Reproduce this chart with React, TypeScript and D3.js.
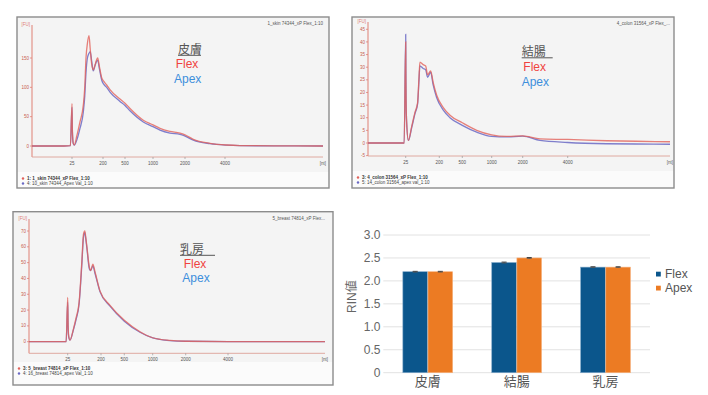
import React from 'react';
import * as d3 from 'd3';

// ladder sizes (nt) that the electropherogram x axis is labelled with
const ladderNt = [0, 25, 200, 500, 1000, 2000, 4000, 7000];
const xTickNt = [25, 200, 500, 1000, 2000, 4000];

// 皮膚 (skin)
const skinNt = [0, 10, 20, 24, 25, 27, 32, 38, 52, 70, 89, 97, 104, 112, 121, 128, 136, 145, 155, 163, 170, 180, 193, 212, 250, 295, 432, 500, 589, 827, 1000, 1219, 1531, 1844, 2000, 2415, 3250, 4052, 4459, 5500, 7000];
const skinFlex = [0, 0, 0, 0.5, 72, 30, 5, 2, 17, 41, 70, 100, 150, 175, 188, 165, 140, 130, 138, 146, 150, 135, 116, 110, 104, 96, 80, 73, 64, 44, 36, 30, 25, 22, 19, 11.4, 4.6, 1.7, 0.8, 0.3, 0];
const skinApex = [0, 0, 0, 0.5, 66, 25, 4, 1.5, 10, 30, 58, 85, 125, 150, 158, 161, 145, 128, 137, 144, 146, 131, 112, 105, 100, 92, 76, 69, 60, 41, 33, 27, 22, 20, 17, 10, 4, 1.5, 0.6, 0.2, 0];

// 結腸 (colon)
const colonNt = [0, 10, 20, 24, 25, 26, 27, 30, 39, 56, 73, 87, 94, 99, 116, 129, 139, 155, 168, 186, 252, 339, 500, 745, 1000, 1480, 2000, 2770, 4000, 5140, 6000, 7000];
const colonFlex = [0, 0, 0, 0, 40, 25, 17, 8, 1, 6.5, 12, 16, 25.5, 32, 31, 30.5, 27, 28.5, 24, 19, 14, 11, 8, 5, 3.2, 2.6, 2.8, 1.6, 1.4, 0.9, 0.7, 0.5];
const colonApex = [0, 0, 0, 0, 43, 28, 17, 8, 1, 6, 11.5, 15.5, 24.5, 30.5, 29.5, 29, 26, 28, 23, 18, 13, 10, 7, 4.3, 2.6, 2.4, 2.7, 1.0, 0.2, -0.3, -0.4, -0.5];

// 乳房 (breast)
const breastNt = [0, 10, 20, 24, 25, 27, 30, 37, 55, 69, 85, 99, 108, 115, 120, 126, 139, 146, 157, 169, 195, 316, 500, 776, 1000, 1524, 2000, 4000, 7000];
const breastFlex = [0, 0, 0, 0, 28, 12, 4, 1, 8, 15, 25, 50, 68, 70, 66, 60, 47, 45, 49, 44, 32, 23, 13.5, 6.3, 2.5, 0.8, 0.3, 0.1, 0];
const breastApex = [0, 0, 0, 0, 25, 10, 3, 1, 7.5, 14, 24, 48, 66, 69, 65, 59, 46, 45, 48, 43, 31.5, 22.5, 13, 6, 2.4, 0.7, 0.3, 0.1, 0];

// RIN bar chart
const tissues = ['皮膚', '結腸', '乳房'];
const methods = ['Flex', 'Apex'];
const rinFlex = [2.2, 2.4, 2.3];
const rinApex = [2.2, 2.5, 2.3];
const rinErrFlex = [0.008, 0.01, 0.008];
const rinErrApex = [0.008, 0.01, 0.008];
const rinTicks = [0, 0.5, 1, 1.5, 2, 2.5, 3];

const FLEX_LINE = '#e2625a';
const APEX_LINE = '#6a68c4';
const AXIS_RED = '#df8074';
const FONT = "'Liberation Sans', Arial, 'Noto Sans CJK JP', sans-serif";
const CJK = "'Noto Sans CJK JP', 'Liberation Sans', sans-serif";

interface PanelProps {
  box: [number, number, number, number];
  xPx: number[];
  xAxisY: number;
  yTopPx: number;
  yRef: [number, number];
  yRefPx: [number, number];
  yTicks: number[];
  nt: number[];
  flex: number[];
  apex: number[];
  title: string;
  legend: [string, string];
  legendY: number;
  tissue: string;
  tissuePos: [number, number, number];
  flexPos: [number, number];
  apexPos: [number, number];
}

const Electropherogram: React.FC<PanelProps> = (p) => {
  const [bx, by, bw, bh] = p.box;
  const x = d3.scaleLinear().domain(ladderNt).range(p.xPx);
  const y = d3.scaleLinear().domain(p.yRef).range(p.yRefPx);
  const x0 = p.xPx[0];
  const x1 = p.xPx[p.xPx.length - 1];
  const line = d3
    .line<number>()
    .x((_, i) => x(p.nt[i]))
    .y((d) => y(d))
    .curve(d3.curveMonotoneX);
  const legendTop = p.legendY - 8;

  return (
    <g>
      <rect x={bx} y={by} width={bw} height={bh} fill="#f4f4f4" />
      <rect x={bx} y={legendTop} width={bw} height={by + bh - legendTop} fill="#fbfbfb" />
      <rect x={bx} y={by} width={bw} height={bh} fill="none" stroke="#8c8c8c" strokeWidth={1.4} />

      <text x={x1} y={by + 8} fontSize={4.5} fill="#555" textAnchor="end" fontFamily={FONT}>
        {p.title}
      </text>

      {/* y axis */}
      <line x1={x0} x2={x0} y1={p.xAxisY} y2={p.yTopPx} stroke={AXIS_RED} strokeWidth={1} />
      <text x={x0 - 2} y={p.yTopPx + 1} fontSize={4.5} fill={AXIS_RED} textAnchor="end" fontFamily={FONT}>
        [FU]
      </text>
      {p.yTicks.map((t) => (
        <g key={t}>
          <line x1={x0 - 2} x2={x0} y1={y(t)} y2={y(t)} stroke={AXIS_RED} strokeWidth={0.8} />
          <text x={x0 - 3} y={y(t) + 1.6} fontSize={4.5} fill="#c8604f" textAnchor="end" fontFamily={FONT}>
            {t}
          </text>
        </g>
      ))}

      {/* x axis */}
      <line x1={x0} x2={x1} y1={p.xAxisY} y2={p.xAxisY} stroke="#dca096" strokeWidth={0.9} />
      {xTickNt.map((t) => (
        <g key={t}>
          <line x1={x(t)} x2={x(t)} y1={p.xAxisY} y2={p.xAxisY + 2} stroke="#999" strokeWidth={0.7} />
          <text x={x(t)} y={p.xAxisY + 7.5} fontSize={4.5} fill="#555" textAnchor="middle" fontFamily={FONT}>
            {t}
          </text>
        </g>
      ))}
      <text x={x1} y={p.xAxisY + 7.5} fontSize={4.5} fill="#555" textAnchor="middle" fontFamily={FONT}>
        [nt]
      </text>

      <path d={line(p.apex) || ''} fill="none" stroke={APEX_LINE} strokeWidth={1.3} strokeOpacity={0.85} />
      <path d={line(p.flex) || ''} fill="none" stroke={FLEX_LINE} strokeWidth={1.3} strokeOpacity={0.8} />

      {/* legend */}
      <circle cx={bx + 6} cy={p.legendY - 1.5} r={1.2} fill={FLEX_LINE} />
      <text x={bx + 10} y={p.legendY} fontSize={4.5} fontWeight="bold" fill="#333" fontFamily={FONT}>
        {p.legend[0]}
      </text>
      <circle cx={bx + 6} cy={p.legendY + 3.5} r={1.2} fill={APEX_LINE} />
      <text x={bx + 10} y={p.legendY + 5} fontSize={4.5} fill="#444" fontFamily={FONT}>
        {p.legend[1]}
      </text>

      {/* annotation */}
      <text x={p.tissuePos[0]} y={p.tissuePos[1]} fontSize={12} fill="#555" fontFamily={CJK}>
        {p.tissue}
      </text>
      <line
        x1={p.tissuePos[0]}
        x2={p.tissuePos[0] + p.tissuePos[2]}
        y1={p.tissuePos[1] + 1.8}
        y2={p.tissuePos[1] + 1.8}
        stroke="#555"
        strokeWidth={1}
      />
      <text x={p.flexPos[0]} y={p.flexPos[1]} fontSize={12} fill="#f0433f" fontFamily={FONT}>
        Flex
      </text>
      <text x={p.apexPos[0]} y={p.apexPos[1]} fontSize={12} fill="#3d8fdc" fontFamily={FONT}>
        Apex
      </text>
    </g>
  );
};

const RinChart: React.FC = () => {
  const x = d3.scaleBand<string>().domain(tissues).range([383.3, 650]).paddingInner(0.44).paddingOuter(0.22);
  const xm = d3.scaleBand<string>().domain(methods).range([0, x.bandwidth()]).paddingInner(0.02);
  const y = d3.scaleLinear().domain([0, 3]).range([372.7, 235]);
  const color = d3.scaleOrdinal<string, string>().domain(methods).range(['#0b568c', '#ec7b23']);
  const edge = d3.scaleOrdinal<string, string>().domain(methods).range(['#7fa7c8', '#f6b17d']);
  const values: Record<string, number[]> = { Flex: rinFlex, Apex: rinApex };
  const errs: Record<string, number[]> = { Flex: rinErrFlex, Apex: rinErrApex };

  return (
    <g fontFamily={FONT}>
      {rinTicks.map((t) => (
        <g key={t}>
          <line x1={383.3} x2={650} y1={y(t)} y2={y(t)} stroke="#e2e2e2" strokeWidth={1} />
          <text x={380.5} y={y(t) + 4.3} fontSize={12} fill="#666" textAnchor="end">
            {t === 0 ? '0' : t.toFixed(1)}
          </text>
        </g>
      ))}
      <text
        transform="translate(356,296.7) rotate(-90)"
        fontSize={12}
        fill="#666"
        textAnchor="middle"
      >
        RIN値
      </text>
      {tissues.map((c, i) => (
        <g key={c}>
          {methods.map((m) => {
            const bx = (x(c) || 0) + (xm(m) || 0);
            const v = values[m][i];
            const e = errs[m][i];
            const cx = bx + xm.bandwidth() / 2;
            return (
              <g key={m}>
                <rect
                  x={bx}
                  y={y(v)}
                  width={xm.bandwidth()}
                  height={y(0) - y(v)}
                  fill={color(m)}
                  stroke={edge(m)}
                  strokeWidth={0.6}
                />
                <line x1={cx} x2={cx} y1={y(v + e)} y2={y(v - e)} stroke="#444" strokeWidth={1} />
                <line x1={cx - 2.5} x2={cx + 2.5} y1={y(v + e)} y2={y(v + e)} stroke="#444" strokeWidth={1} />
                <line x1={cx - 2.5} x2={cx + 2.5} y1={y(v - e)} y2={y(v - e)} stroke="#555" strokeWidth={0.8} />
              </g>
            );
          })}
          <text x={(x(c) || 0) + x.bandwidth() / 2} y={386} fontSize={13} fill="#555" textAnchor="middle" fontFamily={CJK}>
            {c}
          </text>
        </g>
      ))}
      {methods.map((m, i) => (
        <g key={m}>
          <rect x={656} y={271.7 + i * 14} width={4.8} height={4.8} fill={color(m)} />
          <text x={665} y={277.5 + i * 14} fontSize={12} fill="#555">
            {m}
          </text>
        </g>
      ))}
    </g>
  );
};

export default function App() {
  return (
    <svg
      width={708}
      height={395}
      style={{ position: 'absolute', left: 0, top: 0, background: '#fff' }}
    >
      <Electropherogram
        box={[17, 17, 312, 171]}
        xPx={[32, 72, 103, 125, 153, 185, 225, 323]}
        xAxisY={157}
        yTopPx={25}
        yRef={[0, 150]}
        yRefPx={[146, 58]}
        yTicks={[0, 50, 100, 150]}
        nt={skinNt}
        flex={skinFlex}
        apex={skinApex}
        title="1_skin 74344_xP Flex_1:10"
        legend={['1: 1_skin 74344_xP Flex_1:10', '4: 10_skin 74344_Apex Val_1:10']}
        legendY={180}
        tissue="皮膚"
        tissuePos={[178, 53.5, 23]}
        flexPos={[175.7, 67.7]}
        apexPos={[174, 82.7]}
      />
      <Electropherogram
        box={[352, 17, 322, 171]}
        xPx={[368, 405.7, 439.3, 462.3, 491.7, 522.7, 567.7, 670]}
        xAxisY={156}
        yTopPx={22}
        yRef={[0, 45]}
        yRefPx={[143, 29.3]}
        yTicks={[-5, 0, 5, 10, 15, 20, 25, 30, 35, 40, 45]}
        nt={colonNt}
        flex={colonFlex}
        apex={colonApex}
        title="4_colon 31564_xP Flex_..."
        legend={['3: 4_colon 31564_xP Flex_1:10', '5: 14_colon 31564_apex val_1:10']}
        legendY={179}
        tissue="結腸"
        tissuePos={[521.7, 56, 31]}
        flexPos={[523.3, 71]}
        apexPos={[521.7, 85.5]}
      />
      <Electropherogram
        box={[13, 211.7, 320, 173.3]}
        xPx={[29, 67.7, 101, 124.3, 152.7, 185.7, 228, 325]}
        xAxisY={353.3}
        yTopPx={219}
        yRef={[0, 70]}
        yRefPx={[341.7, 231]}
        yTicks={[0, 10, 20, 30, 40, 50, 60, 70]}
        nt={breastNt}
        flex={breastFlex}
        apex={breastApex}
        title="5_breast 74814_xP Flex..."
        legend={['3: 5_breast 74814_xP Flex_1:10', '4: 16_breast 74814_apex Val_1:10']}
        legendY={370}
        tissue="乳房"
        tissuePos={[180, 253.5, 35]}
        flexPos={[183.7, 268.3]}
        apexPos={[182.3, 282.3]}
      />
      <RinChart />
    </svg>
  );
}
